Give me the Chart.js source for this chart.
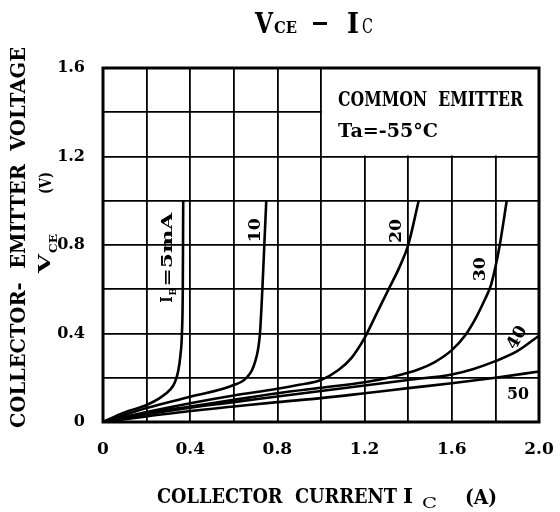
<!DOCTYPE html>
<html>
<head>
<meta charset="utf-8">
<script src="https://cdn.jsdelivr.net/npm/chart.js@4.4.0/dist/chart.umd.min.js"></script>
<style>
html,body{margin:0;padding:0;background:#fff;}
#wrap{width:560px;height:512px;position:relative;}
</style>
</head>
<body>
<div id="wrap"><canvas id="c"></canvas></div>
<script>
// Base current series labels (I_B)
const seriesNames = ['5mA', '10', '20', '30', '40', '50'];
// Collector current I_C (A) and collector-emitter voltage V_CE (V) per series
const ic5   = [0, 0.09, 0.2, 0.26, 0.307, 0.33, 0.345, 0.355, 0.362, 0.366, 0.368];
const vce5  = [0, 0.04, 0.077, 0.108, 0.145, 0.18, 0.23, 0.3, 0.4, 0.6, 1.0];
const ic10  = [0, 0.2, 0.4, 0.6, 0.658, 0.696, 0.72, 0.731, 0.74, 0.749];
const vce10 = [0, 0.063, 0.114, 0.167, 0.2, 0.267, 0.4, 0.6, 0.8, 1.0];
const ic20  = [0, 0.2, 0.4, 0.6, 0.8, 0.9, 1.0, 1.08, 1.14, 1.2, 1.255, 1.31, 1.36, 1.4, 1.448];
const vce20 = [0, 0.045, 0.085, 0.12, 0.15, 0.168, 0.19, 0.235, 0.29, 0.38, 0.49, 0.6, 0.7, 0.8, 1.0];
const ic30  = [0, 0.2, 0.4, 0.6, 0.8, 1.0, 1.2, 1.33, 1.44, 1.52, 1.6, 1.66, 1.71, 1.75, 1.78, 1.8, 1.82, 1.852];
const vce30 = [0, 0.04, 0.07, 0.1, 0.13, 0.155, 0.18, 0.205, 0.235, 0.27, 0.325, 0.39, 0.47, 0.55, 0.62, 0.7, 0.8, 1.0];
const ic40  = [0, 0.2, 0.4, 0.6, 0.8, 1.0, 1.2, 1.4, 1.6, 1.7, 1.8, 1.9, 2.0];
const vce40 = [0, 0.035, 0.065, 0.09, 0.115, 0.14, 0.165, 0.19, 0.215, 0.24, 0.275, 0.32, 0.39];
const ic50  = [0, 0.2, 0.4, 0.6, 0.8, 1.0, 1.2, 1.4, 1.6, 1.8, 2.0];
const vce50 = [0, 0.025, 0.05, 0.07, 0.09, 0.108, 0.13, 0.153, 0.175, 0.2, 0.228];
// Axis tick labels
const xTickLabels = ['0', '0.4', '0.8', '1.2', '1.6', '2.0'];
const yTickLabels = ['0', '0.4', '0.8', '1.2', '1.6'];

const FONT = '"DejaVu Serif", "Liberation Serif", serif';

function pts(xs, ys){ return xs.map((x,i)=>({x:x, y:ys[i]})); }
const allX = [ic5, ic10, ic20, ic30, ic40, ic50];
const allY = [vce5, vce10, vce20, vce30, vce40, vce50];
const datasets = seriesNames.map((n,i)=>({
  label: n,
  data: pts(allX[i], allY[i]),
  showLine: true,
  borderColor: '#000',
  borderWidth: 2.6,
  pointRadius: 0,
  cubicInterpolationMode: 'monotone',
  fill: false
}));

function tickCb(labels){
  return function(v){
    const s = labels.find(l => Math.abs(parseFloat(l) - v) < 1e-6);
    return s === undefined ? '' : s;
  };
}

// draw text with its left edge at x, baseline at y, stretched to width w
function fitText(ctx, txt, x, y, w, font){
  ctx.save();
  ctx.font = font;
  const m = ctx.measureText(txt).width;
  ctx.translate(x, y);
  ctx.scale(w / m, 1);
  ctx.textAlign = 'left';
  ctx.textBaseline = 'alphabetic';
  ctx.fillText(txt, 0, 0);
  ctx.restore();
}

const deco = {
  id: 'deco',
  beforeDatasetsDraw(chart){
    const {ctx, scales:{x, y}} = chart;
    ctx.save();
    ctx.fillStyle = '#fff';
    const x0 = x.getPixelForValue(1.0) + 1, x1 = x.getPixelForValue(2.0) - 1;
    const y0 = y.getPixelForValue(1.6) + 1, y1 = y.getPixelForValue(1.2) - 1;
    ctx.fillRect(x0, y0, x1 - x0, y1 - y0);
    ctx.restore();
  },
  afterDraw(chart){
    const {ctx, chartArea:a, scales:{x, y}} = chart;
    ctx.save();
    ctx.strokeStyle = '#000';
    ctx.lineWidth = 3;
    ctx.strokeRect(a.left, a.top, a.right - a.left, a.bottom - a.top);
    ctx.fillStyle = '#000';

    // Title  V_CE - I_C
    fitText(ctx, 'V', 255, 33, 18, 'bold 28px ' + FONT);
    fitText(ctx, 'CE', 274, 33, 23, 'bold 17px ' + FONT);
    ctx.fillRect(313, 22, 14, 3);
    fitText(ctx, 'I', 347, 33, 12, 'bold 28px ' + FONT);
    fitText(ctx, 'C', 362, 33, 11, '21px ' + FONT);

    // Box text
    fitText(ctx, 'COMMON  EMITTER', 338, 106, 185, 'bold 20px ' + FONT);
    fitText(ctx, 'Ta=-55°C', 338, 137, 100, 'bold 19px ' + FONT);

    // X axis title
    fitText(ctx, 'COLLECTOR  CURRENT', 157, 503, 240, 'bold 20px ' + FONT);
    fitText(ctx, 'I', 403, 503, 10, 'bold 20px ' + FONT);
    fitText(ctx, 'C', 422, 508, 15, '15px ' + FONT);
    fitText(ctx, '(A)', 465, 504, 32, 'bold 20px ' + FONT);

    // Y axis title (rotated)
    ctx.save(); ctx.translate(25, 428); ctx.rotate(-Math.PI/2);
    fitText(ctx, 'COLLECTOR-  EMITTER  VOLTAGE', 0, 0, 381, 'bold 21px ' + FONT);
    ctx.restore();
    ctx.save(); ctx.translate(50, 273); ctx.rotate(-Math.PI/2);
    fitText(ctx, 'V', 0, 0, 19, 'bold 17px ' + FONT);
    fitText(ctx, 'CE', 20, 7, 19, 'bold 11px ' + FONT);
    ctx.restore();
    ctx.save(); ctx.translate(51, 173); ctx.rotate(-Math.PI/2);
    fitText(ctx, '(V)', -21, 0, 22, 'bold 17px ' + FONT);
    ctx.restore();

    // Curve labels, anchored in data coordinates
    function lbl(txt, vx, vy, rot, w){
      const px = x.getPixelForValue(vx), py = y.getPixelForValue(vy);
      ctx.save(); ctx.translate(px, py); ctx.rotate(rot);
      fitText(ctx, txt, -w/2, 6, w, 'bold 17px ' + FONT);
      ctx.restore();
    }
    {
      const px = x.getPixelForValue(0.291), py = y.getPixelForValue(0.743);
      ctx.save(); ctx.translate(px, py); ctx.rotate(-Math.PI/2);
      fitText(ctx, 'I', -45, 6, 6, 'bold 16px ' + FONT);
      fitText(ctx, 'B', -38, 10, 8, 'bold 10px ' + FONT);
      fitText(ctx, '=5mA', -29, 6, 74, 'bold 15px ' + FONT);
      ctx.restore();
    }
    lbl('10', 0.691, 0.867, -Math.PI/2, 24);
    lbl('20', 1.341, 0.863, -Math.PI/2, 24);
    lbl('30', 1.725, 0.69, -Math.PI/2, 24);
    lbl('40', 1.895, 0.384, -Math.PI/3, 24);
    lbl('50', 1.904, 0.13, 0, 22);
    ctx.restore();
  }
};

new Chart(document.getElementById('c'), {
  type: 'scatter',
  data: { datasets },
  options: {
    responsive: true,
    maintainAspectRatio: false,
    animation: false,
    layout: { padding: { left: 0, right: 21, top: 68, bottom: 0 } },
    plugins: { legend: { display: false }, tooltip: { enabled: false } },
    scales: {
      x: {
        type: 'linear', min: 0, max: 2.0,
        afterFit(s){ s.height = 90; s.paddingRight = 0; s.paddingLeft = 0; },
        ticks: { stepSize: 0.2, autoSkip: false, maxRotation: 0, color: '#000', padding: 17,
                 font: { family: FONT, size: 17, weight: 'bold' }, callback: tickCb(xTickLabels) },
        grid: { color: '#000', lineWidth: 1.8, drawTicks: false },
        border: { display: false }
      },
      y: {
        type: 'linear', min: 0, max: 1.6,
        afterFit(s){ s.width = 103; s.paddingTop = 0; s.paddingBottom = 0; },
        ticks: { stepSize: 0.2, autoSkip: false, color: '#000', padding: 18,
                 font: { family: FONT, size: 16, weight: 'bold' }, callback: tickCb(yTickLabels) },
        grid: { color: '#000', lineWidth: 1.8, drawTicks: false },
        border: { display: false }
      }
    }
  },
  plugins: [deco]
});
</script>
</body>
</html>
